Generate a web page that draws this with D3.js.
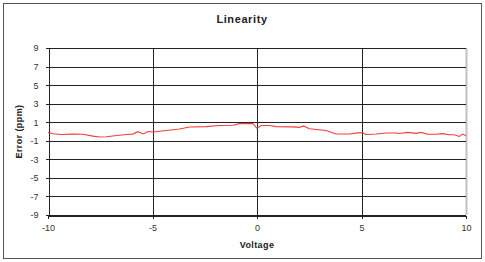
<!DOCTYPE html>
<html>
<head>
<meta charset="utf-8">
<style>
  body { margin: 0; background: #fff; }
  text { font-family: "Liberation Sans", Arial, sans-serif; fill: #222; }
  .title { font-size: 11px; font-weight: bold; letter-spacing: 0.6px; }
  .axis-title { font-size: 9px; font-weight: bold; letter-spacing: 0.4px; }
  .tick-label { font-size: 9px; fill: #333; }
  .grid { stroke: #222; stroke-width: 1; shape-rendering: crispEdges; }
  .series { fill: none; stroke: #f43c3c; stroke-width: 1.1; }
</style>
</head>
<body>
<svg width="485" height="262"></svg>
<script src="https://cdnjs.cloudflare.com/ajax/libs/d3/7.8.5/d3.min.js"></script>
<script>
// chart values
var voltage = [-10, -9.76, -9.36, -8.8, -8.33, -7.85, -7.53, -7.21, -6.81, -6.25,
  -5.94, -5.7, -5.43, -5.22, -4.98, -4.34, -3.71, -3.23, -2.43, -1.79,
  -1.16, -0.84, -0.2, 0, 0.2, 0.6, 0.92, 1.71, 2.03, 2.22,
  2.51, 3.31, 3.78, 4.42, 4.82, 5.06, 5.22, 5.7, 6.18, 6.65,
  6.81, 7.21, 7.61, 7.85, 8.17, 8.57, 8.88, 9.2, 9.44, 9.68,
  9.84, 10];
var errorPpm = [-0.1, -0.25, -0.33, -0.28, -0.3, -0.5, -0.6, -0.57, -0.45, -0.32,
  -0.28, -0.02, -0.27, 0, -0.05, 0.1, 0.27, 0.48, 0.53, 0.64,
  0.67, 0.85, 0.85, 0.35, 0.64, 0.64, 0.53, 0.5, 0.45, 0.6,
  0.3, 0.1, -0.27, -0.27, -0.15, -0.15, -0.33, -0.27, -0.16, -0.16,
  -0.22, -0.1, -0.2, -0.1, -0.3, -0.3, -0.23, -0.35, -0.35, -0.53,
  -0.28, -0.45];
var xTicks = [-10, -5, 0, 5, 10];
var yTicks = [9, 7, 5, 3, 1, -1, -3, -5, -7, -9];

var svg = d3.select("svg"),
    width = +svg.attr("width"),
    height = +svg.attr("height");

var plotLeft = 48, plotRight = 466, plotTop = 48, plotBottom = 215;

var x = d3.scaleLinear().domain([-10, 10]).range([plotLeft, plotRight]);
var y = d3.scaleLinear().domain([-9, 9]).range([plotBottom, plotTop]);

// outer chart border
svg.append("rect")
    .attr("x", 3.5).attr("y", 3.5)
    .attr("width", 478).attr("height", 255)
    .attr("fill", "#fff")
    .attr("stroke", "#555");

// plot area right edge (grey)
svg.append("line")
    .attr("x1", plotRight + 0.5).attr("x2", plotRight + 0.5)
    .attr("y1", plotTop).attr("y2", plotBottom)
    .attr("stroke", "#c0c0c0").attr("stroke-width", 2);

// horizontal grid
svg.selectAll(".hgrid")
  .data(yTicks)
  .enter().append("line")
    .attr("class", "grid")
    .attr("x1", plotLeft).attr("x2", plotRight)
    .attr("y1", function(d) { return Math.round(y(d)) + 0.5; })
    .attr("y2", function(d) { return Math.round(y(d)) + 0.5; });

// vertical grid
svg.selectAll(".vgrid")
  .data(xTicks.filter(function(d) { return d > -10 && d < 10; }))
  .enter().append("line")
    .attr("class", "grid")
    .attr("x1", function(d) { return Math.round(x(d)) + 0.5; })
    .attr("x2", function(d) { return Math.round(x(d)) + 0.5; })
    .attr("y1", plotTop).attr("y2", plotBottom);

// axes (plain hyphen for negatives, like the original)
var fmt = function(d) { return String(d); };
var xAxis = d3.axisBottom(x).tickValues(xTicks).tickFormat(fmt).tickSize(3).tickPadding(6);
var yAxis = d3.axisLeft(y).tickValues(yTicks).tickFormat(fmt).tickSize(3).tickPadding(7);

var gx = svg.append("g")
    .attr("transform", "translate(0," + (Math.round(y(-9)) + 0.5) + ")")
    .call(xAxis);
var gy = svg.append("g")
    .attr("transform", "translate(" + (Math.round(x(-10)) + 0.5) + ",0)")
    .call(yAxis);

[gx, gy].forEach(function(g) {
  g.attr("font-size", null).attr("font-family", null);
  g.select(".domain").attr("stroke", "#222").attr("shape-rendering", "crispEdges");
  g.selectAll(".tick line").attr("stroke", "#222").attr("shape-rendering", "crispEdges");
  g.selectAll(".tick text").attr("class", "tick-label").attr("fill", null);
});

// series
var line = d3.line()
    .x(function(d, i) { return x(voltage[i]); })
    .y(function(d) { return y(d); });

svg.append("path")
    .datum(errorPpm)
    .attr("class", "series")
    .attr("d", line);

// titles
svg.append("text")
    .attr("class", "title")
    .attr("x", 242).attr("y", 23)
    .attr("text-anchor", "middle")
    .text("Linearity");

svg.append("text")
    .attr("class", "axis-title")
    .attr("x", (plotLeft + plotRight) / 2).attr("y", 248)
    .attr("text-anchor", "middle")
    .text("Voltage");

svg.append("text")
    .attr("class", "axis-title")
    .attr("transform", "translate(22," + ((plotTop + plotBottom) / 2) + ") rotate(-90)")
    .attr("text-anchor", "middle")
    .text("Error (ppm)");
</script>
</body>
</html>
